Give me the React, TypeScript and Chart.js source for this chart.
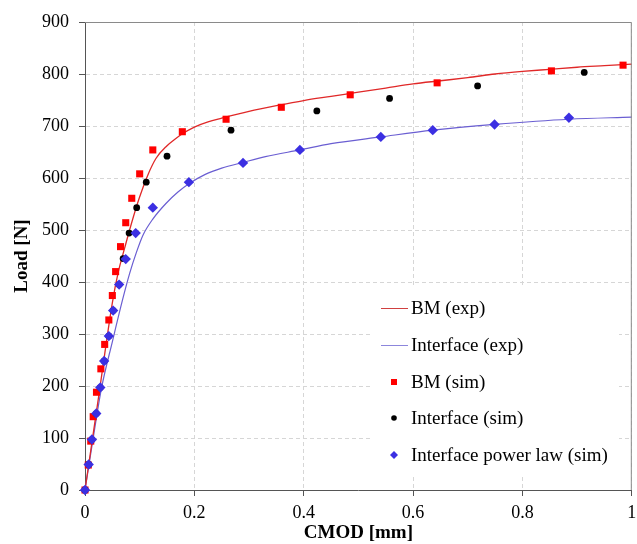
import React, { useEffect, useRef } from "react";
import { Chart, registerables } from "chart.js";

Chart.register(...registerables);

// ---------- DATA ----------
const bmExpX = [0, 0.025, 0.05, 0.0606, 0.0727, 0.0848, 0.0988, 0.115, 0.13, 0.15, 0.165, 0.178, 0.2, 0.225, 0.25, 0.3, 0.35, 0.4, 0.45, 0.5, 0.55, 0.6, 0.65, 0.7, 0.75, 0.8, 0.85, 0.9, 0.95, 1.0];
const bmExpY = [0, 180, 360, 418, 466, 512, 560, 606, 638, 662, 675, 685, 698, 708, 715, 728, 739, 749, 757, 765, 773, 781, 787, 793, 800, 805, 809, 813, 816, 819];

const ifExpX = [0, 0.015, 0.03, 0.05, 0.0685, 0.0818, 0.094, 0.106, 0.124, 0.148, 0.17, 0.19, 0.22, 0.25, 0.289, 0.33, 0.393, 0.45, 0.541, 0.636, 0.749, 0.885, 1.0];
const ifExpY = [0, 100, 195, 285, 365, 417, 457, 490, 521, 551, 573, 589, 607, 619, 630, 641, 654, 666, 679, 692, 703, 713, 717];

const bmSimX = [0, 0.006, 0.0105, 0.015, 0.021, 0.029, 0.036, 0.0436, 0.050, 0.056, 0.065, 0.0745, 0.0855, 0.1, 0.124, 0.178, 0.258, 0.359, 0.485, 0.644, 0.853, 0.984];
const bmSimY = [0, 48, 94, 141, 188, 233, 280, 327, 374, 420, 468, 514, 561, 608, 654, 689, 713, 736, 760, 783, 806, 817];

const ifSimX = [0, 0.0067, 0.0127, 0.0206, 0.028, 0.035, 0.0436, 0.0515, 0.0624, 0.0697, 0.0806, 0.0945, 0.112, 0.15, 0.267, 0.424, 0.557, 0.718, 0.913];
const ifSimY = [0, 49, 97, 147, 197, 248, 296, 345, 395, 445, 494, 543, 592, 642, 692, 729, 753, 777, 803];

const ifPowX = [0, 0.0067, 0.0127, 0.0206, 0.028, 0.035, 0.0436, 0.0515, 0.0624, 0.0745, 0.0927, 0.124, 0.19, 0.289, 0.393, 0.541, 0.636, 0.749, 0.885];
const ifPowY = [0, 49, 97, 147, 197, 248, 296, 345, 395, 444, 494, 543, 592, 629, 654, 679, 692, 703, 716];

const legendLabels = ["BM (exp)", "Interface (exp)", "BM (sim)", "Interface (sim)", "Interface power law (sim)"];
const xAxisTitle = "CMOD [mm]";
const yAxisTitle = "Load [N]";

// ---------- STYLE ----------
const SERIF = '"Liberation Serif", "Times New Roman", serif';
const RED_LINE = "#e02828";
const BLUE_LINE = "#6a5ed2";
const RED_MARK = "#ff0000";
const BLUE_MARK = "#3b2fe2";
const GRID = "#d6d6d6";
const AXIS = "#555555";

const pts = (xs: number[], ys: number[]) => xs.map((x, i) => ({ x, y: ys[i] }));

const frameLegendPlugin = {
  id: "frameLegend",
  afterDatasetsDraw(chart: any) {
    const ctx = chart.ctx;
    const { left, right, top, bottom } = chart.chartArea;
    // frame top & right
    ctx.save();
    ctx.strokeStyle = "#8a8a8a";
    ctx.lineWidth = 1;
    ctx.beginPath();
    ctx.moveTo(left, top + 0.5);
    ctx.lineTo(right - 0.5, top + 0.5);
    ctx.lineTo(right - 0.5, bottom);
    ctx.stroke();
    ctx.restore();

    // legend
    ctx.save();
    ctx.fillStyle = "#ffffff";
    ctx.fillRect(372, 285, 247, 190);
    const rows = [308, 345, 382, 418, 455];
    const mx = 394;
    ctx.font = `19px ${SERIF}`;
    ctx.textBaseline = "middle";
    ctx.textAlign = "left";
    // line samples
    ctx.lineWidth = 1;
    ctx.strokeStyle = "#d04040";
    ctx.beginPath();
    ctx.moveTo(381, rows[0] + 0.5);
    ctx.lineTo(408, rows[0] + 0.5);
    ctx.stroke();
    ctx.strokeStyle = "#8c86dc";
    ctx.beginPath();
    ctx.moveTo(381, rows[1] + 0.5);
    ctx.lineTo(408, rows[1] + 0.5);
    ctx.stroke();
    // markers
    ctx.fillStyle = RED_MARK;
    ctx.fillRect(mx - 3, rows[2] - 3, 6, 6);
    ctx.fillStyle = "#000";
    ctx.beginPath();
    ctx.arc(mx, rows[3], 2.8, 0, Math.PI * 2);
    ctx.fill();
    ctx.fillStyle = BLUE_MARK;
    ctx.beginPath();
    ctx.moveTo(mx - 4, rows[4]);
    ctx.lineTo(mx, rows[4] - 4);
    ctx.lineTo(mx + 4, rows[4]);
    ctx.lineTo(mx, rows[4] + 4);
    ctx.closePath();
    ctx.fill();
    ctx.fillStyle = "#000";
    legendLabels.forEach((t, i) => ctx.fillText(t, 411, rows[i] + 1));
    ctx.restore();
  },
};

export default function App() {
  const ref = useRef<HTMLCanvasElement>(null);
  useEffect(() => {
    document.body.style.margin = "0";
    const chart = new Chart(ref.current as HTMLCanvasElement, {
      type: "scatter",
      data: {
        datasets: [
          {
            label: legendLabels[0],
            data: pts(bmExpX, bmExpY),
            showLine: true,
            borderColor: RED_LINE,
            borderWidth: 1.3,
            pointRadius: 0,
            cubicInterpolationMode: "monotone",
            order: 4,
            clip: false,
          } as any,
          {
            label: legendLabels[1],
            data: pts(ifExpX, ifExpY),
            showLine: true,
            borderColor: BLUE_LINE,
            borderWidth: 1.2,
            pointRadius: 0,
            cubicInterpolationMode: "monotone",
            order: 5,
            clip: false,
          } as any,
          {
            label: legendLabels[2],
            data: pts(bmSimX, bmSimY),
            pointStyle: "rect",
            pointRadius: 5,
            backgroundColor: RED_MARK,
            borderWidth: 0,
            order: 3,
            clip: false,
          } as any,
          {
            label: legendLabels[3],
            data: pts(ifSimX, ifSimY),
            pointStyle: "circle",
            pointRadius: 3.4,
            backgroundColor: "#000",
            borderWidth: 0,
            order: 2,
            clip: false,
          } as any,
          {
            label: legendLabels[4],
            data: pts(ifPowX, ifPowY),
            pointStyle: "rectRot",
            pointRadius: 5.2,
            backgroundColor: BLUE_MARK,
            borderWidth: 0,
            order: 1,
            clip: false,
          } as any,
        ],
      },
      options: {
        responsive: false,
        animation: false,
        devicePixelRatio: 1,
        layout: { padding: { top: 22, right: 1, left: 0, bottom: 0 } },
        plugins: { legend: { display: false }, tooltip: { enabled: false } },
        scales: {
          x: {
            type: "linear",
            min: 0,
            max: 1,
            ticks: {
              stepSize: 0.2,
              color: "#000",
              font: { family: SERIF, size: 18 },
              padding: 6,
              maxRotation: 0,
              callback: (v: any) => String(Number(Number(v).toFixed(1))),
            },
            grid: { color: GRID, tickColor: AXIS, tickLength: 6, tickBorderDash: [] },
            border: { color: AXIS, width: 1, dash: [4, 3] },
            title: {
              display: true,
              text: xAxisTitle,
              color: "#000",
              font: { family: SERIF, size: 19, weight: "bold" },
              padding: { top: 0, bottom: 0 },
            },
            afterFit: (s: any) => {
              s.height = 54;
              s.paddingLeft = 0;
              s.paddingRight = 0;
            },
          },
          y: {
            type: "linear",
            min: 0,
            max: 900,
            ticks: {
              stepSize: 100,
              color: "#000",
              font: { family: SERIF, size: 18 },
              padding: 10,
            },
            grid: { color: GRID, tickColor: AXIS, tickLength: 6, tickBorderDash: [] },
            border: { color: AXIS, width: 1, dash: [4, 3] },
            title: {
              display: true,
              text: yAxisTitle,
              color: "#000",
              font: { family: SERIF, size: 19, weight: "bold" },
              padding: { top: 11, bottom: 0 },
            },
            afterFit: (s: any) => {
              s.width = 85;
              s.paddingTop = 0;
              s.paddingBottom = 0;
            },
          },
        },
      } as any,
      plugins: [frameLegendPlugin],
    });
    return () => chart.destroy();
  }, []);
  return (
    <div style={{ width: 637, height: 544 }}>
      <canvas ref={ref} width={637} height={544} style={{ display: "block" }} />
    </div>
  );
}
